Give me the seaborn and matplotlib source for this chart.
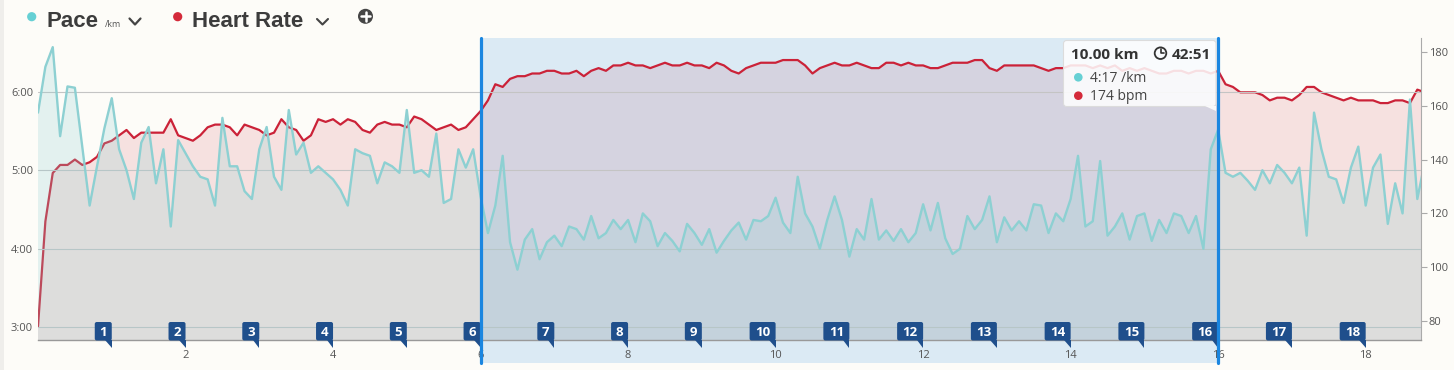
import numpy as np
import pandas as pd
import matplotlib
matplotlib.use("Agg")
import matplotlib.pyplot as plt
import matplotlib.transforms as mtransforms
from matplotlib.patches import Rectangle, Circle, Polygon, FancyBboxPatch
from matplotlib.lines import Line2D
import seaborn as sns

sns.set_theme(style="white")
plt.rcParams['font.family'] = ['Open Sans', 'DejaVu Sans']

# samples, one every 0.1 km
step_km = 0.1
pace_sec = [
    344, 379, 394, 326, 364, 363, 318, 273, 303, 332,
    355, 316, 300, 278, 321, 333, 290, 316, 257, 323,
    313, 303, 295, 293, 273, 340, 303, 303, 284, 278,
    316, 333, 295, 285, 346, 312, 321, 298, 303, 298,
    293, 285, 273, 316, 313, 311, 290, 306, 303, 298,
    346, 298, 300, 295, 328, 275, 278, 316, 302, 316,
    280, 252, 273, 311, 245, 224, 247, 255, 232, 245,
    250, 242, 257, 255, 247, 265, 248, 252, 262, 255,
    262, 245, 267, 261, 242, 252, 246, 238, 259, 252,
    243, 255, 237, 246, 254, 260, 247, 262, 261, 265,
    279, 260, 252, 295, 267, 257, 240, 262, 280, 262,
    234, 255, 247, 278, 247, 254, 246, 255, 245, 252,
    274, 254, 275, 248, 236, 240, 265, 255, 262, 280,
    245, 264, 254, 261, 254, 274, 273, 252, 267, 261,
    278, 311, 257, 261, 307, 250, 257, 267, 247, 265,
    267, 246, 262, 252, 267, 265, 252, 265, 240, 316,
    331, 298, 295, 298, 292, 285, 300, 290, 304, 298,
    290, 302, 250, 344, 316, 295, 293, 275, 302, 318,
    273, 302, 312, 259, 290, 267, 354, 278, 306,
]
hr_bpm = [
    78, 117, 135, 138, 138, 140, 138, 139, 141, 146,
    147, 149, 151, 148, 150, 150, 150, 150, 155, 149,
    148, 147, 149, 152, 153, 153, 152, 149, 153, 152,
    151, 149, 150, 155, 152, 151, 147, 149, 155, 154,
    155, 153, 155, 154, 151, 150, 153, 154, 153, 153,
    152, 156, 155, 153, 151, 152, 153, 151, 152, 155,
    158, 162, 168, 167, 170, 171, 171, 172, 172, 173,
    173, 172, 172, 173, 171, 173, 174, 173, 175, 175,
    176, 175, 175, 174, 175, 176, 175, 175, 176, 175,
    175, 174, 176, 175, 173, 172, 174, 175, 176, 176,
    176, 177, 177, 177, 175, 172, 174, 175, 176, 175,
    175, 176, 175, 174, 174, 176, 176, 175, 176, 175,
    175, 174, 174, 175, 176, 176, 176, 177, 177, 174,
    173, 175, 175, 175, 175, 175, 174, 173, 174, 174,
    175, 175, 175, 174, 175, 174, 175, 173, 174, 173,
    174, 173, 172, 172, 173, 173, 172, 173, 173, 172,
    173, 168, 167, 165, 165, 165, 164, 162, 163, 163,
    162, 164, 167, 167, 165, 164, 163, 162, 163, 162,
    162, 162, 161, 161, 162, 162, 161, 166, 165,
]
pace_ticks = [180, 240, 300, 360]
pace_tick_labels = ['3:00', '4:00', '5:00', '6:00']
hr_ticks = [80, 100, 120, 140, 160, 180]
km_ticks = [2, 4, 6, 8, 10, 12, 14, 16, 18]
laps = list(range(1, 19))
sel_start, sel_end = 6, 16
tip_dist, tip_time = '10.00 km', '42:51'
tip_pace, tip_hr = '4:17 /km', '174 bpm'

df = pd.DataFrame({'km': np.arange(len(pace_sec)) * step_km,
                   'pace': pace_sec, 'hr': hr_bpm})

BG = '#fdfcf8'
PACE = '#8dd0d2'
PACE_DOT = '#66d0d4'
HR = '#cb2238'
HR_DOT = '#d42a3a'
SEL = '#1a86e0'
LAP = '#1f4f8c'
TXT = '#3c3c3c'

W, H = 1454, 370
fig = plt.figure(figsize=(W / 100, H / 100), dpi=100, facecolor=BG)
# pixel coordinates measured from the top-left corner
pix = mtransforms.Affine2D().scale(1, -1).translate(0, H)

ax1 = fig.add_axes([38 / W, (H - 340) / H, (1421 - 38) / W, (340 - 38) / H])
ax2 = ax1.twinx()
ax1.set_zorder(ax2.get_zorder() + 1)
ax1.patch.set_visible(False)
ax2.set_facecolor(BG)

# heart rate layer (behind)
ax2.fill_between(df['km'], 0, df['hr'], color=HR, alpha=0.12, lw=0, zorder=1)
ax2.axvspan(sel_start, sel_end, ymin=-0.076, ymax=1, color=SEL, alpha=0.15,
            lw=0, clip_on=False, zorder=2)
sns.lineplot(data=df, x='km', y='hr', ax=ax2, color=HR, linewidth=1.6,
             estimator=None, sort=False, zorder=3)

# pace layer (front)
ax1.fill_between(df['km'], 0, df['pace'], color=PACE, alpha=0.23, lw=0, zorder=1)
sns.lineplot(data=df, x='km', y='pace', ax=ax1, color=PACE, linewidth=1.7,
             estimator=None, sort=False, zorder=3)

for k in (sel_start, sel_end):
    ax1.axvline(k, ymin=-0.076, ymax=1, color=SEL, lw=2.3, clip_on=False, zorder=8)

# lap markers
base = mtransforms.blended_transform_factory(ax1.transData, ax1.transAxes)
for n in laps:
    w = 17 if n < 10 else 26
    tr = mtransforms.IdentityTransform() + mtransforms.ScaledTranslation(n, 0, base)
    ax1.add_artist(FancyBboxPatch((-w, -0.5), w, 18.5,
                                  boxstyle='round,pad=0,rounding_size=2',
                                  fc=LAP, ec='none', transform=tr,
                                  clip_on=False, zorder=6))
    ax1.add_artist(Polygon([(-6.5, -0.4), (0, -0.4), (0, -8.3)], closed=True,
                           fc=LAP, ec='none', transform=tr, clip_on=False, zorder=6))
    ax1.text(-w / 2, 4.4, str(n), transform=tr, ha='center', va='baseline',
             color='white', fontsize=9.5, fontweight='bold', zorder=7, clip_on=False)

# axes styling
ax1.set_xlim(0, 18.75)
ax1.set_ylim(170.3, 401)
ax2.set_ylim(72.9, 185.2)
ax1.set_xticks(km_ticks)
ax1.set_xticklabels([str(t) for t in km_ticks])
ax1.set_yticks(pace_ticks)
ax1.set_yticklabels(pace_tick_labels)
ax2.set_yticks(hr_ticks)
ax2.set_yticklabels([str(t) for t in hr_ticks])
for a in (ax1, ax2):
    a.set_xlabel('')
    a.set_ylabel('')
ax1.grid(True, axis='y', color='#c4c4c4', lw=0.8)
ax1.grid(False, axis='x')
ax1.set_axisbelow(True)
ax1.tick_params(axis='x', length=0, pad=7, labelsize=8, labelcolor='#555555')
ax1.tick_params(axis='y', length=0, pad=3.5, labelsize=8, labelcolor='#555555')
ax2.tick_params(axis='y', length=4, width=0.8, color='#aaaaaa', pad=1.5,
                labelsize=8, labelcolor='#555555')
for s in ('top', 'left', 'right'):
    ax1.spines[s].set_visible(False)
ax1.spines['bottom'].set_color('#999999')
ax1.spines['bottom'].set_linewidth(1)
for s in ('top', 'left', 'bottom'):
    ax2.spines[s].set_visible(False)
ax2.spines['right'].set_color('#aaaaaa')
ax2.spines['right'].set_linewidth(0.8)

# left edge strip
fig.add_artist(Rectangle((0, 0), 4, H, transform=pix, fc='#efeeeb', ec='none', zorder=0))

# header legend
fig.add_artist(Circle((31.7, 16.7), 4.6, transform=pix, fc=PACE_DOT, ec='none', zorder=10))
fig.text(46, 27.3, 'Pace', transform=pix, fontsize=16, fontweight='bold',
         family='Liberation Sans', color=TXT, va='baseline', zorder=10)
fig.text(105, 26.7, '/km', transform=pix, fontsize=6.5, color='#555555',
         va='baseline', zorder=10)
fig.add_artist(Line2D([129.5, 135, 140.5], [18.5, 24.5, 18.5], transform=pix,
                      color='#444444', lw=1.6, zorder=10))
fig.add_artist(Circle((177.7, 16.7), 4.6, transform=pix, fc=HR_DOT, ec='none', zorder=10))
fig.text(191.5, 27.3, 'Heart Rate', transform=pix, fontsize=16, fontweight='bold',
         family='Liberation Sans', color=TXT, va='baseline', zorder=10)
fig.add_artist(Line2D([317, 322.5, 328], [19, 24.5, 19], transform=pix,
                      color='#444444', lw=1.5, zorder=10))
fig.add_artist(Circle((365.5, 16.3), 7.5, transform=pix, fc='#454545', ec='none', zorder=10))
fig.add_artist(Line2D([361.3, 369.7], [16.3, 16.3], transform=pix, color='white',
                      lw=1.8, zorder=11))
fig.add_artist(Line2D([365.5, 365.5], [12.1, 20.5], transform=pix, color='white',
                      lw=1.8, zorder=11))

# tooltip
fig.add_artist(FancyBboxPatch((1063.5, 40.5), 152.5, 66,
                              boxstyle='round,pad=0,rounding_size=3', transform=pix,
                              fc=(1, 1, 1, 0.86), ec='#dcdcdc', lw=0.8, zorder=20))
fig.add_artist(Polygon([(1205, 106.3), (1215.5, 106.3), (1215.5, 111)], closed=True,
                       transform=pix, fc=(1, 1, 1, 0.86), ec='none', zorder=20))
fig.text(1071, 59, tip_dist, transform=pix, fontsize=11, fontweight='bold',
         color='#333333', va='baseline', zorder=21)
fig.add_artist(Circle((1160.5, 53.2), 5.8, transform=pix, fill=False,
                      ec='#333333', lw=1.3, zorder=21))
fig.add_artist(Line2D([1160.5, 1160.5, 1164], [49.3, 53.2, 53.2], transform=pix,
                      color='#333333', lw=1.2, zorder=21))
fig.text(1171.5, 59, tip_time, transform=pix, fontsize=11, fontweight='bold',
         color='#333333', va='baseline', zorder=21)
fig.add_artist(Circle((1078.3, 77.3), 4.3, transform=pix, fc=PACE_DOT, ec='none', zorder=21))
fig.text(1090, 81.7, tip_pace, transform=pix, fontsize=10, color='#444444',
         va='baseline', zorder=21)
fig.add_artist(Circle((1078.3, 95.7), 4.3, transform=pix, fc=HR_DOT, ec='none', zorder=21))
fig.text(1090, 100, tip_hr, transform=pix, fontsize=10, color='#444444',
         va='baseline', zorder=21)

fig.savefig('out.png', dpi=100, facecolor=BG)
